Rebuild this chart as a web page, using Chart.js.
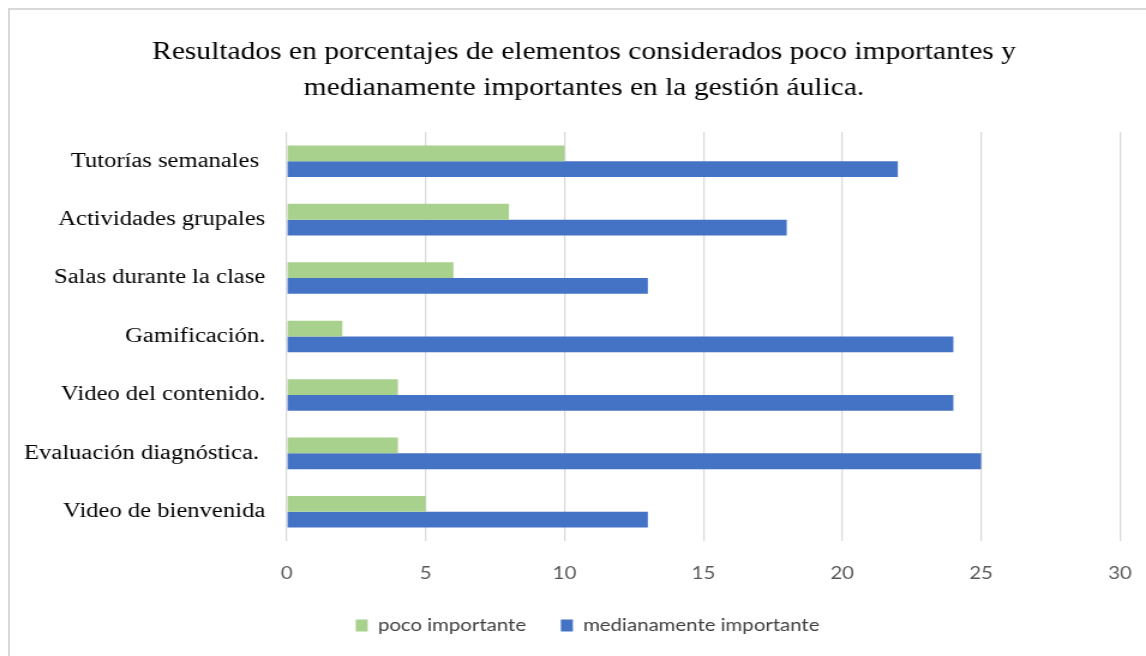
<!DOCTYPE html>
<html>
<head>
<meta charset="utf-8">
<script src="https://cdn.jsdelivr.net/npm/chart.js@4"></script>
<style>
  html, body { margin: 0; padding: 0; background: #fff; overflow: hidden; }
  #wrap { position: relative; width: 1146px; height: 656px; overflow: hidden; }
  /* the original picture is stretched horizontally, so the canvas is too */
  #scaler { position: absolute; left: 0; top: 0; transform: scaleX(1.2); transform-origin: 0 0; }
  #frame { position: absolute; left: 8px; top: 8px; width: 1200px; height: 700px;
           border: 2px solid #d9d9d9; pointer-events: none; }
</style>
</head>
<body>
<div id="wrap">
  <div id="scaler"><canvas id="chart" width="955" height="656"></canvas></div>
  <div id="frame"></div>
</div>
<script>
// Datos del gráfico
const categorias = ['Tutorías semanales ', 'Actividades grupales', 'Salas durante la clase', 'Gamificación.',
                    'Video del contenido.', 'Evaluación diagnóstica. ', 'Video de bienvenida'];
const pocoImportante = [10, 8, 6, 2, 4, 4, 5];
const medianamenteImportante = [22, 18, 13, 24, 24, 25, 13];

// title and legend sit a bit right of the plot centre in the original
const shiftBlocks = {
    id: 'shiftBlocks',
    afterLayout(c) {
        c.titleBlock.left += 20; c.titleBlock.right += 20;
        c.legend.left += 23; c.legend.right += 23;
    }
};

const ctx = document.getElementById('chart').getContext('2d');
const chart = new Chart(ctx, {
    type: 'bar',
    data: {
        labels: categorias,
        datasets: [{
            label: 'poco importante',
            data: pocoImportante,
            backgroundColor: '#A9D18E',
            borderWidth: 0
        }, {
            label: 'medianamente importante',
            data: medianamenteImportante,
            backgroundColor: '#4472C4',
            borderWidth: 0
        }]
    },
    plugins: [shiftBlocks],
    options: {
        indexAxis: 'y',
        responsive: false,
        animation: false,
        categoryPercentage: 0.54,
        barPercentage: 1,
        layout: {
            padding: { left: 0, right: 21.7, top: 0, bottom: 12 }
        },
        plugins: {
            title: {
                display: true,
                text: ['Resultados en porcentajes de elementos considerados poco importantes y',
                       'medianamente importantes en la gestión áulica.'],
                color: '#000',
                font: { family: 'Liberation Serif', size: 24.6, weight: 'normal', lineHeight: 1.463 },
                padding: { top: 35, bottom: 25 }
            },
            legend: {
                position: 'bottom',
                labels: {
                    boxWidth: 10,
                    boxHeight: 12,
                    padding: 29,
                    color: '#404040',
                    font: { family: 'Lato', size: 17 }
                }
            },
            tooltip: { enabled: false }
        },
        scales: {
            x: {
                min: 0,
                max: 30,
                ticks: {
                    stepSize: 5,
                    color: '#595959',
                    padding: 0,
                    font: { family: 'Lato', size: 17 }
                },
                grid: { color: '#d9d9d9', lineWidth: 1.25, drawTicks: true, tickLength: 22, tickColor: 'rgba(0,0,0,0)' },
                border: { display: false },
                afterFit: (scale) => { scale.height = 47; }
            },
            y: {
                ticks: {
                    color: '#000',
                    padding: 18,
                    font: { family: 'Liberation Serif', size: 20.5 }
                },
                grid: { display: false, drawTicks: false },
                border: { display: false },
                afterFit: (scale) => { scale.width = 239; }
            }
        }
    }
});
</script>
</body>
</html>
